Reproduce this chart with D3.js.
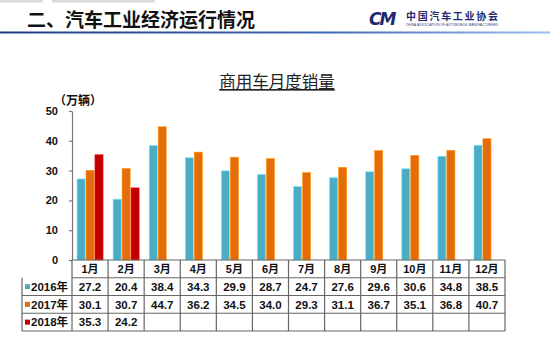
<!DOCTYPE html>
<html>
<head>
<meta charset="utf-8">
<script src="https://cdn.jsdelivr.net/npm/d3@7/dist/d3.min.js"></script>
<style>
	body { margin: 0; background: #fff; }
	svg { display: block; }
	.cn { font-family: "Noto Sans CJK SC", sans-serif; }
	.num { font-family: "Liberation Sans", Arial, "Noto Sans CJK SC", sans-serif; font-weight: bold; fill: #111; }
</style>
</head>
<body>
<div id="chart"></div>
<script>
const months = ['1月','2月','3月','4月','5月','6月','7月','8月','9月','10月','11月','12月'];
const seriesNames = ['2016年','2017年','2018年'];
const seriesColors = ['#4bacc6','#e46c0a','#c00000'];
const sales2016 = [27.2,20.4,38.4,34.3,29.9,28.7,24.7,27.6,29.6,30.6,34.8,38.5];
const sales2017 = [30.1,30.7,44.7,36.2,34.5,34.0,29.3,31.1,36.7,35.1,36.8,40.7];
const sales2018 = [35.3,24.2];
const yTicks = [0,10,20,30,40,50];

const series = [sales2016, sales2017, sales2018];

const width = 550, height = 358;
const svg = d3.select('#chart').append('svg')
	.attr('width', width)
	.attr('height', height);

// slide header
svg.append('rect').attr('x', 0).attr('y', 0).attr('width', 43).attr('height', 2.5).attr('fill', '#dadada');
svg.append('rect').attr('x', 52).attr('y', 0).attr('width', 103).attr('height', 2.5).attr('fill', '#dadada');

const grad = svg.append('defs').append('linearGradient')
	.attr('id', 'hline')
	.attr('x1', '0%').attr('x2', '100%');
grad.append('stop').attr('offset', '0%').attr('stop-color', '#1f3c88');
grad.append('stop').attr('offset', '60%').attr('stop-color', '#3f68b8');
grad.append('stop').attr('offset', '100%').attr('stop-color', '#9cc0ee');

svg.append('rect')
	.attr('x', 0).attr('y', 31.5)
	.attr('width', width).attr('height', 2)
	.attr('fill', 'url(#hline)');

svg.append('text')
	.classed('cn', true)
	.attr('x', 27).attr('y', 27)
	.style('font-size', '19px')
	.style('font-weight', 'bold')
	.style('fill', '#111')
	.text('二、汽车工业经济运行情况');

// logo
const logo = svg.append('g');
logo.append('text')
	.attr('x', 369).attr('y', 25)
	.style('font-family', '"DejaVu Sans", sans-serif')
	.style('font-size', '17px')
	.style('font-weight', 'bold')
	.style('font-style', 'italic')
	.style('letter-spacing', '-2px')
	.style('fill', '#1e2a6e')
	.text('CM');
logo.append('text')
	.classed('cn', true)
	.attr('x', 406).attr('y', 20)
	.attr('textLength', 92)
	.style('font-size', '10px')
	.style('font-weight', 'bold')
	.style('fill', '#1e2a6e')
	.text('中国汽车工业协会');
logo.append('text')
	.attr('x', 406).attr('y', 25.5)
	.attr('textLength', 92)
	.style('font-family', '"Liberation Sans", sans-serif')
	.style('font-size', '3px')
	.style('fill', '#1e2a6e')
	.text('CHINA ASSOCIATION OF AUTOMOBILE MANUFACTURERS');

// chart title
svg.append('text')
	.classed('cn', true)
	.attr('x', 277).attr('y', 88)
	.attr('text-anchor', 'middle')
	.style('font-size', '16.5px')
	.style('fill', '#222')
	.style('text-decoration', 'underline')
	.text('商用车月度销量');

svg.append('text')
	.classed('cn', true)
	.attr('x', 54).attr('y', 105)
	.style('font-size', '12px')
	.style('font-weight', 'bold')
	.style('fill', '#111')
	.text('（万辆）');

// scales
const plotLeft = 72, plotRight = 505, plotTop = 111, plotBottom = 260;

const x0 = d3.scaleBand()
	.domain(months)
	.range([plotLeft, plotRight])
	.paddingInner(0);

const x1 = d3.scaleBand()
	.domain(seriesNames)
	.range([0, x0.bandwidth() * 0.72])
	.paddingInner(0.1);

const y = d3.scaleLinear()
	.domain([0, 50])
	.range([plotBottom, plotTop]);

// bars
const barData = [];
series.forEach((vals, si) => {
	vals.forEach((v, mi) => {
		barData.push({month: months[mi], name: seriesNames[si], value: v, color: seriesColors[si]});
	});
});

svg.append('g')
	.selectAll('rect')
	.data(barData)
	.enter()
	.append('rect')
	.attr('x', d => x0(d.month) + x0.bandwidth() * 0.14 + x1(d.name))
	.attr('y', d => y(d.value))
	.attr('width', x1.bandwidth())
	.attr('height', d => y(0) - y(d.value))
	.attr('fill', d => d.color)
	.attr('stroke', d => d3.color(d.color).brighter(0.9))
	.attr('stroke-width', 0.6);

// y axis
const yAxis = svg.append('g')
	.attr('transform', `translate(${plotLeft},0)`)
	.call(d3.axisLeft(y).tickValues(yTicks).tickSize(3).tickSizeOuter(0).tickPadding(11));

yAxis.select('.domain').attr('stroke', '#777').attr('stroke-width', 1.2);
yAxis.selectAll('.tick line').attr('stroke', '#777').attr('stroke-width', 1.2);
yAxis.selectAll('.tick text')
	.attr('class', 'num')
	.style('font-size', '11px');

// data table
const rows = ['header'].concat(seriesNames);
const rowY = d3.scaleBand()
	.domain(rows)
	.range([plotBottom, 331]);

const table = svg.append('g').attr('class', 'table');
const lineColor = '#666';

// horizontal lines
rows.forEach(r => {
	table.append('line')
		.attr('x1', r === 'header' ? plotLeft : 22)
		.attr('x2', plotRight)
		.attr('y1', rowY(r) + rowY.bandwidth())
		.attr('y2', rowY(r) + rowY.bandwidth())
		.attr('stroke', lineColor).attr('stroke-width', 1.2);
});
table.append('line')
	.attr('x1', plotLeft).attr('x2', plotRight)
	.attr('y1', plotBottom).attr('y2', plotBottom)
	.attr('stroke', lineColor).attr('stroke-width', 1.2);

// vertical lines
months.forEach(m => {
	table.append('line')
		.attr('x1', x0(m)).attr('x2', x0(m))
		.attr('y1', plotBottom).attr('y2', 331)
		.attr('stroke', lineColor).attr('stroke-width', 1.2);
});
table.append('line')
	.attr('x1', plotRight).attr('x2', plotRight)
	.attr('y1', plotBottom).attr('y2', 331)
	.attr('stroke', lineColor).attr('stroke-width', 1.2);
table.append('line')
	.attr('x1', 22).attr('x2', 22)
	.attr('y1', rowY('2016年')).attr('y2', 331)
	.attr('stroke', lineColor).attr('stroke-width', 1.2);

// month labels
table.selectAll('text.month')
	.data(months)
	.enter()
	.append('text')
	.attr('class', 'num month')
	.attr('x', d => x0(d) + x0.bandwidth() / 2)
	.attr('y', rowY('header') + rowY.bandwidth() / 2)
	.attr('dy', '.36em')
	.attr('text-anchor', 'middle')
	.style('font-size', '11px')
	.text(d => d);

// legend cells + values
seriesNames.forEach((name, si) => {
	const cy = rowY(name) + rowY.bandwidth() / 2;
	table.append('rect')
		.attr('x', 25).attr('y', cy - 2.5)
		.attr('width', 5).attr('height', 5)
		.attr('fill', seriesColors[si]);
	table.append('text')
		.attr('class', 'num')
		.attr('x', 31).attr('y', cy)
		.attr('dy', '.36em')
		.style('font-size', '11.5px')
		.text(name);

	table.selectAll(null)
		.data(series[si])
		.enter()
		.append('text')
		.attr('class', 'num')
		.attr('x', (d, i) => x0(months[i]) + x0.bandwidth() / 2)
		.attr('y', cy)
		.attr('dy', '.36em')
		.attr('text-anchor', 'middle')
		.style('font-size', '11.5px')
		.text(d => d.toFixed(1));
});
</script>
</body>
</html>
